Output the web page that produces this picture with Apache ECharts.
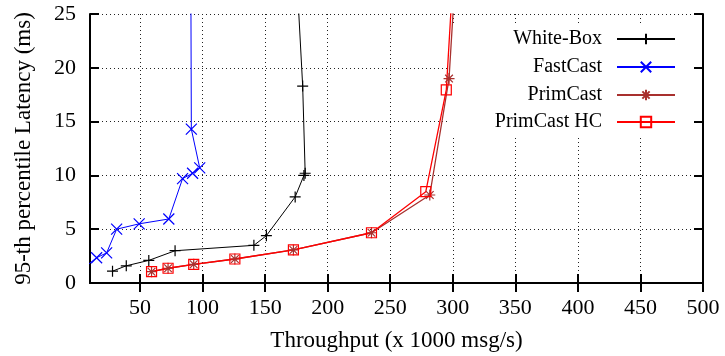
<!DOCTYPE html>
<html>
<head>
<meta charset="utf-8">
<script src="https://cdn.jsdelivr.net/npm/echarts@6/dist/echarts.min.js"></script>
<style>
  html, body {margin: 0; padding: 0; background: #fff;}
  #chart {width: 725px; height: 356px;}
</style>
</head>
<body>
<div id="chart"></div>
<script>
// x ticks (throughput, x 1000 msg/s), y ticks (latency, ms)
const xTicks = [50, 100, 150, 200, 250, 300, 350, 400, 450, 500];
const yTicks = [0, 5, 10, 15, 20, 25];
const names = ['White-Box', 'FastCast', 'PrimCast', 'PrimCast HC'];
const colors = ['#000000', '#0000ff', '#a8302e', '#ff0000'];

// [throughput, latency]; last points sit above the plot and are clipped
const whiteBox = [[28, 1.1], [39, 1.6], [57, 2.1], [78, 3.0], [141, 3.5], [151, 4.4],
    [174, 8.0], [181, 10.0], [182, 10.2], [180, 18.3], [170, 40]];
const fastCast = [[5, 1.4], [15.3, 2.35], [23.3, 2.8], [31.3, 5.0], [49.3, 5.5], [73, 5.95],
    [84, 9.7], [92, 10.2], [97.7, 10.7], [91, 14.3], [90.3, 40]];
const primCast = [[59.2, 1.05], [72.4, 1.37], [92.9, 1.74], [125.8, 2.23], [172.6, 3.07],
    [235, 4.67], [281.6, 8.18], [297, 19.0], [308, 40]];
const primCastHC = [[59.2, 1.05], [72.4, 1.37], [92.9, 1.74], [125.8, 2.23], [172.6, 3.07],
    [235, 4.67], [278.4, 8.49], [294.8, 17.94], [306, 40]];

const font = "'Liberation Serif', 'Times New Roman', serif";
const symbols = [
    'path://M0,5L10,5M5,0L5,10',
    'path://M0,0L10,10M10,0L0,10',
    'path://M0,5L10,5M5,0L5,10M1.5,1.5L8.5,8.5M8.5,1.5L1.5,8.5',
    'path://M0,0L10,0L10,10L0,10Z'
];
const seriesData = [whiteBox, fastCast, primCast, primCastHC];
const legendRows = [40, 68, 96, 123];

const chart = echarts.init(document.getElementById('chart'));

const axisLine = {show: true, lineStyle: {color: '#000', width: 2}};
const grid = {left: 90, right: 22, top: 14, bottom: 73, outerBoundsMode: 'none'};

chart.setOption({
    animation: false,
    grid: grid,
    xAxis: [
        {
            type: 'value', min: 10, max: 500, position: 'bottom',
            name: 'Throughput (x 1000 msg/s)', nameLocation: 'middle', nameGap: 46,
            nameTextStyle: {fontFamily: font, fontSize: 23, color: '#000'},
            axisLine: axisLine,
            axisTick: {show: true, inside: true, length: 9, customValues: xTicks,
                lineStyle: {color: '#000', width: 2}},
            axisLabel: {customValues: xTicks, fontFamily: font, fontSize: 22, color: '#000', margin: 14},
            splitLine: {show: true, lineStyle: {color: '#222', width: 1, type: [1, 3]}}
        },
        {
            type: 'value', min: 10, max: 500, position: 'top',
            axisLine: axisLine,
            axisTick: {show: true, inside: true, length: 9, customValues: xTicks,
                lineStyle: {color: '#000', width: 2}},
            axisLabel: {show: false},
            splitLine: {show: false}
        }
    ],
    yAxis: [
        {
            type: 'value', min: 0, max: 25, interval: 5, position: 'left',
            name: '95-th percentile Latency (ms)', nameLocation: 'middle', nameGap: 55,
            nameTextStyle: {fontFamily: font, fontSize: 23, color: '#000'},
            axisLine: axisLine,
            axisTick: {show: true, inside: true, length: 9, lineStyle: {color: '#000', width: 2}},
            axisLabel: {fontFamily: font, fontSize: 22, color: '#000', margin: 14},
            splitLine: {show: true, lineStyle: {color: '#222', width: 1, type: [1, 3]}}
        },
        {
            type: 'value', min: 0, max: 25, interval: 5, position: 'right',
            axisLine: axisLine,
            axisTick: {show: true, inside: true, length: 9, lineStyle: {color: '#000', width: 2}},
            axisLabel: {show: false},
            splitLine: {show: false}
        }
    ],
    // white key box over the grid lines
    graphic: [{
        type: 'rect', z: 1, silent: true,
        shape: {x: 447, y: 26, width: 245, height: 110},
        style: {fill: '#fff'}
    }],
    legend: names.map((n, i) => ({
        data: [n],
        orient: 'vertical',
        right: 49,
        top: legendRows[i] - 11,
        align: 'right',
        padding: 0,
        itemWidth: 58,
        itemHeight: 13,
        textStyle: {fontFamily: font, fontSize: 20, color: '#000', padding: [0, 10, 0, 0]}
    })),
    series: names.map((n, i) => ({
        name: n,
        type: 'line',
        data: seriesData[i],
        clip: true,
        symbol: symbols[i],
        symbolSize: i === 3 ? 10 : 11,
        lineStyle: {color: colors[i], width: i >= 2 ? 1.3 : 1},
        itemStyle: {color: 'transparent', borderColor: colors[i], borderWidth: 1.2}
    }))
});
</script>
</body>
</html>
